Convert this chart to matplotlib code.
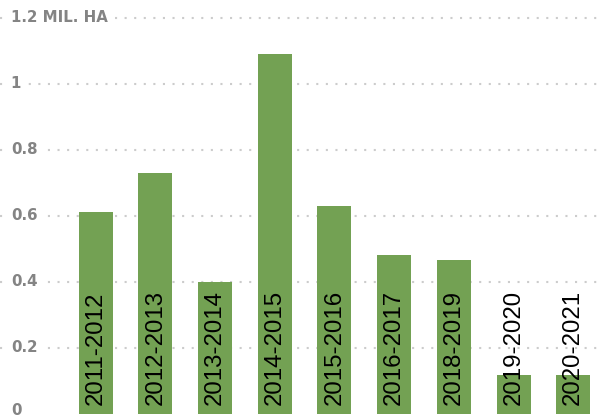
import matplotlib
matplotlib.use('Agg')
import matplotlib.pyplot as plt

# data (million hectares)
seasons = ['2011-2012', '2012-2013', '2013-2014', '2014-2015', '2015-2016',
           '2016-2017', '2018-2019', '2019-2020', '2020-2021']
area = [0.61, 0.73, 0.40, 1.09, 0.63, 0.48, 0.465, 0.117, 0.117]
yticks = [0, 0.2, 0.4, 0.6, 0.8, 1, 1.2]
ytick_labels = ['0', '0.2', '0.4', '0.6', '0.8', '1', '1.2 MIL. HA']

bar_color = '#73a153'
grid_color = '#cccccc'
label_color = '#848484'

fig = plt.figure(figsize=(5.98, 4.19), dpi=100)
ax = fig.add_axes([0, 0.0131, 1, 0.9869])

x = list(range(len(seasons)))
ax.bar(x, area, width=0.57, color=bar_color, zorder=3)

# dotted gridlines (no line at zero)
for yt in yticks[1:]:
    ax.axhline(yt, color=grid_color, linewidth=1.5, linestyle=(0, (1, 3.6)), zorder=1)

# y labels sit on the gridlines, white box hides the dots behind them
for yt, lab in zip(yticks, ytick_labels):
    ypos = yt if yt > 0 else 0.01  # keep the zero label inside the figure
    ax.text(0.018, ypos, lab, transform=ax.get_yaxis_transform(), ha='left', va='center',
            fontsize=10.8, fontweight='bold', color=label_color, family='DejaVu Sans',
            bbox=dict(facecolor='white', edgecolor='none', pad=4), zorder=2, clip_on=False)

# season names written up from the bottom of each bar
for xi, s in zip(x, seasons):
    ax.text(xi, 0.025, s, rotation=90, ha='center', va='bottom', fontsize=17.3,
            color='black', family='Liberation Sans', zorder=4)

ax.set_xlim(-1.601, 8.415)
ax.set_ylim(0, 1.254)
ax.axis('off')

fig.savefig('out.png', dpi=100)
